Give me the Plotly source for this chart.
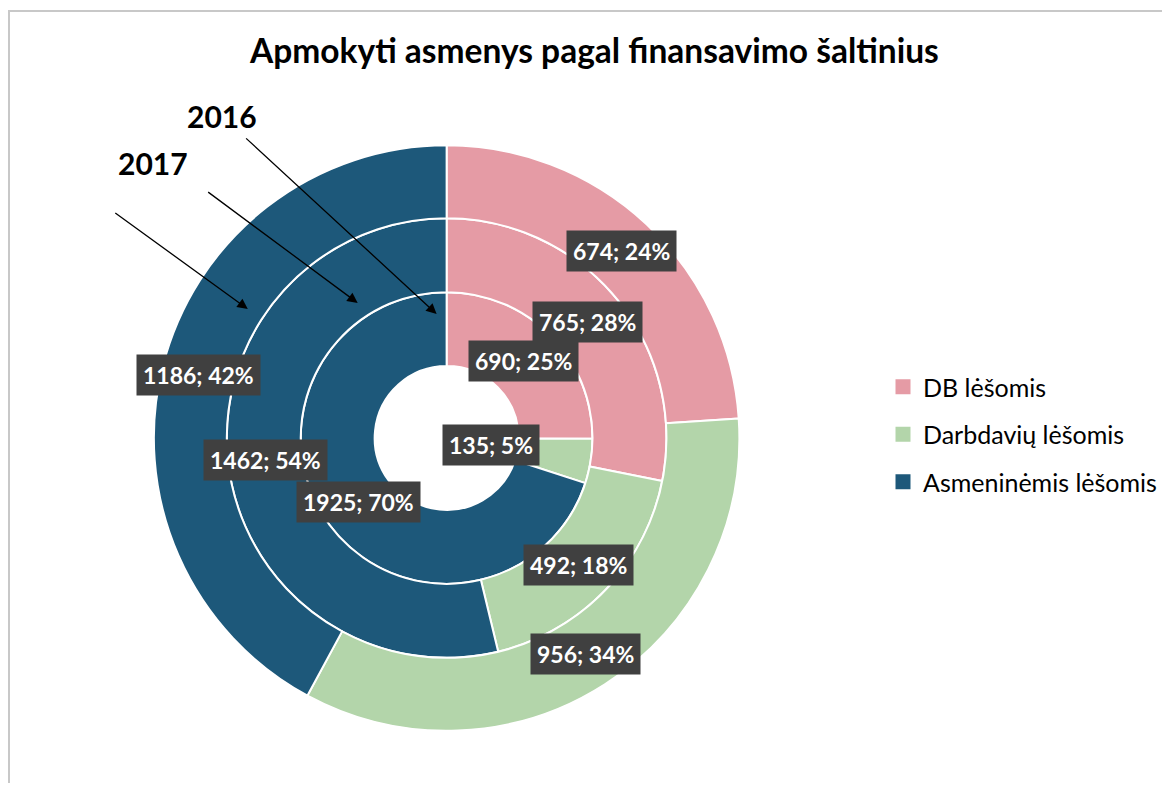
import math
import plotly.graph_objects as go

# ---- data ----
categories = ["DB lėšomis", "Darbdavių lėšomis", "Asmeninėmis lėšomis"]
values_2016 = [690, 135, 1925]   # inner ring
values_2017 = [765, 492, 1462]   # middle ring
values_2018 = [674, 956, 1186]   # outer ring (unlabelled arrow)
year_labels = ["2016", "2017", ""]
title_text = "Apmokyti asmenys pagal finansavimo šaltinius"

# ---- style ----
OFF = 8                                # browser body margin
W, H = 1170 - 2 * OFF, 791 - 2 * OFF
colors = ["#E59BA5", "#B3D5AA", "#1D587A"]
CX, CY = 447, 438                     # pie centre in window pixels
ring_edges = [72, 146, 220, 293]       # radii in pixels
FONT = "Lato"
# radial placement factor for labels (1 = middle of ring)
label_rfactor = [[1, 0.41, 1], [1, 1, 1], [1, 1, 1]]

def px(x):
    return (x - OFF) / W

def py(y):
    return 1 - (y - OFF) / H

rings = [values_2016, values_2017, values_2018]

fig = go.Figure()
annotations = []
for i, vals in enumerate(rings):
    r_in, r_out = ring_edges[i], ring_edges[i + 1]
    fig.add_trace(go.Pie(
        labels=categories, values=vals, sort=False, direction="clockwise",
        rotation=0, hole=r_in / r_out, textinfo="none", showlegend=False,
        marker=dict(colors=colors, line=dict(color="white", width=2)),
        domain=dict(x=[px(CX - r_out), px(CX + r_out)],
                    y=[py(CY + r_out), py(CY - r_out)]),
        name=year_labels[i] or "2018",
    ))
    total = sum(vals)
    cum = 0
    rm = (r_in + r_out) / 2
    for j, v in enumerate(vals):
        mid = (cum + v / 2) / total
        cum += v
        ang = 2 * math.pi * mid
        r = rm * label_rfactor[i][j]
        x = CX + r * math.sin(ang)
        y = CY - r * math.cos(ang)
        annotations.append(dict(
            x=px(x), y=py(y), xref="paper", yref="paper", showarrow=False,
            xanchor="center", yanchor="middle",
            text=f"<b>{v}; {round(100 * v / total)}%</b>",
            font=dict(family=FONT, size=23, color="white"),
            bgcolor="#404040", borderpad=6,
        ))

# legend entries
for c, name in zip(colors, categories):
    fig.add_trace(go.Scatter(
        x=[None], y=[None], mode="markers", name=name, legendgroup=name,
        marker=dict(symbol="square", size=15, color=c),
    ))

# arrows with year labels
arrows = [((245, 137), (437, 314)), ((207, 191), (358, 303)), ((114, 212), (248, 309))]
year_pos = [(222, 116), (153, 163), None]
for (s, t), lab, pos in zip(arrows, year_labels, year_pos):
    annotations.append(dict(
        x=px(t[0]), y=py(t[1]), xref="paper", yref="paper",
        ax=s[0] - t[0], ay=s[1] - t[1], axref="pixel", ayref="pixel",
        text="", showarrow=True, arrowhead=2, arrowsize=1.6,
        arrowwidth=1.3, arrowcolor="black",
    ))
    if lab:
        annotations.append(dict(
            x=px(pos[0]), y=py(pos[1]), xref="paper", yref="paper",
            xanchor="center", yanchor="middle",
            text=f"<b>{lab}</b>", showarrow=False,
            font=dict(family=FONT, size=30, color="black"),
        ))

annotations.append(dict(
    x=px(595), y=py(50), xref="paper", yref="paper", showarrow=False,
    xanchor="center", yanchor="middle",
    text=f"<b>{title_text}</b>",
    font=dict(family=FONT, size=33.5, color="black"),
))

fig.update_layout(
    width=W, height=H, margin=dict(l=0, r=0, t=0, b=0),
    paper_bgcolor="white", plot_bgcolor="white",
    xaxis=dict(visible=False), yaxis=dict(visible=False),
    annotations=annotations,
    legend=dict(x=px(884), y=py(364), xanchor="left", yanchor="top",
                font=dict(family=FONT, size=25, color="black"),
                tracegroupgap=12, itemclick=False),
    shapes=[dict(type="rect", xref="paper", yref="paper",
                 x0=px(9), x1=px(1200), y0=py(820), y1=py(11),
                 line=dict(color="#C8C8C8", width=2))],
)

fig.write_html("out.html")
